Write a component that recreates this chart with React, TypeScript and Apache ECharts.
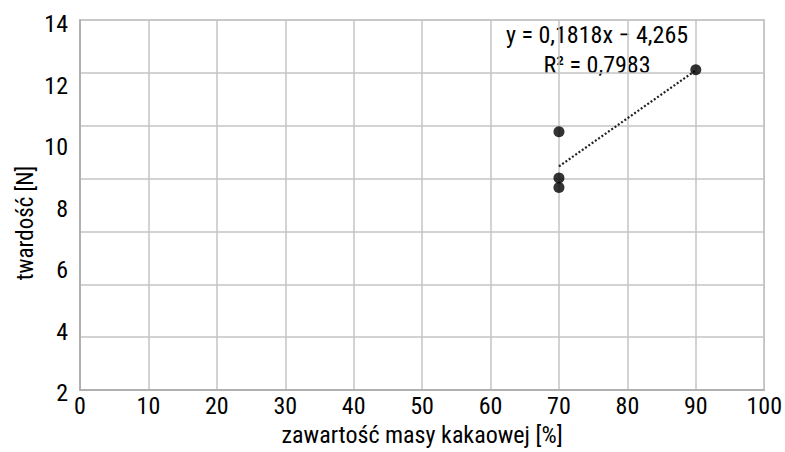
import React, { useEffect, useRef } from "react";
import * as echarts from "echarts";

// Hardness measurements vs. cocoa mass content
const cocoaContent = [70, 70, 70, 90];
const hardness = [9.77, 8.02, 7.66, 12.12];

// Linear trend line y = a·x + b, drawn over the measured x range
const SLOPE = 0.1818;
const INTERCEPT = -4.265;
const R2 = "0,7983";
const trendRange = [70, 90];

const xTicks = { min: 0, max: 100, interval: 10 };
const yTicks = { min: 2, max: 14, interval: 2 };

const FONT =
  "'Roboto Condensed', 'Liberation Sans Narrow', 'DejaVu Sans Condensed', 'Arial Narrow', Roboto, sans-serif";

export default function App() {
  const ref = useRef<HTMLDivElement>(null);

  useEffect(() => {
    if (!ref.current) return;
    const chart = echarts.init(ref.current, undefined, { renderer: "svg" });

    const points = cocoaContent.map((x, i) => [x, hardness[i]]);
    const trend = trendRange.map((x) => [x, SLOPE * x + INTERCEPT]);

    const gridColor = "#c4c4c4";
    const textColor = "#000000";

    chart.setOption({
      animation: false,
      backgroundColor: "#ffffff",
      textStyle: { fontFamily: FONT },
      grid: [
        { left: 80, right: 18, top: 20, bottom: 55, show: true, borderColor: gridColor, borderWidth: 1.5 },
        { left: 80, right: 18, top: 24, bottom: 59 },
      ],
      xAxis: [
        {
          type: "value",
          gridIndex: 0,
          min: xTicks.min,
          max: xTicks.max,
          interval: xTicks.interval,
          axisLine: { show: true, lineStyle: { color: "#a8a8a8", width: 1.5 } },
          axisTick: { show: false },
          splitLine: { show: true, lineStyle: { color: gridColor, width: 1.5 } },
          axisLabel: { color: textColor, fontSize: 24, fontFamily: FONT, margin: 4 },
          name: "zawartość masy kakaowej [%]",
          nameLocation: "middle",
          nameGap: 33,
          nameTextStyle: { color: textColor, fontSize: 24, fontFamily: FONT },
        },
        { type: "value", gridIndex: 1, show: false, min: 0, max: 100 },
      ],
      yAxis: [
        {
          type: "value",
          gridIndex: 0,
          min: 0,
          max: 14,
          interval: 2,
          axisLine: { show: true, lineStyle: { color: "#a8a8a8", width: 1.5 } },
          axisTick: { show: false },
          splitLine: { show: true, lineStyle: { color: gridColor, width: 1.5 } },
          axisLabel: { show: false },
        },
        {
          type: "value",
          gridIndex: 1,
          min: yTicks.min,
          max: yTicks.max,
          interval: yTicks.interval,
          axisLine: { show: false },
          axisTick: { show: false },
          splitLine: { show: false },
          axisLabel: { color: textColor, fontSize: 24, fontFamily: FONT, margin: 12 },
        },
      ],
      graphic: [
        {
          type: "text",
          x: 25,
          y: 223,
          rotation: Math.PI / 2,
          style: {
            text: "twardość [N]",
            fill: textColor,
            font: `23px ${FONT}`,
            align: "center",
            verticalAlign: "middle",
          },
        },
        {
          type: "text",
          x: 597,
          y: 35,
          style: {
            text: `y = ${String(SLOPE).replace(".", ",")}x − ${String(-INTERCEPT).replace(".", ",")}`,
            fill: textColor,
            font: `24px ${FONT}`,
            align: "center",
            verticalAlign: "middle",
          },
        },
        {
          type: "text",
          x: 597,
          y: 65,
          style: {
            text: `R² = ${R2}`,
            fill: textColor,
            font: `24px ${FONT}`,
            align: "center",
            verticalAlign: "middle",
          },
        },
      ],
      series: [
        {
          type: "line",
          xAxisIndex: 0,
          yAxisIndex: 0,
          data: trend,
          symbol: "none",
          lineStyle: { color: "#222222", width: 2.2, type: [2, 2] },
          z: 2,
        },
        {
          type: "scatter",
          xAxisIndex: 0,
          yAxisIndex: 0,
          data: points,
          symbol: "circle",
          symbolSize: 11,
          itemStyle: { color: "#000000" },
          z: 3,
        },
      ],
    });

    return () => chart.dispose();
  }, []);

  return (
    <div
      ref={ref}
      style={{ position: "fixed", left: 0, top: 0, width: 785, height: 452, background: "#fff" }}
    />
  );
}
